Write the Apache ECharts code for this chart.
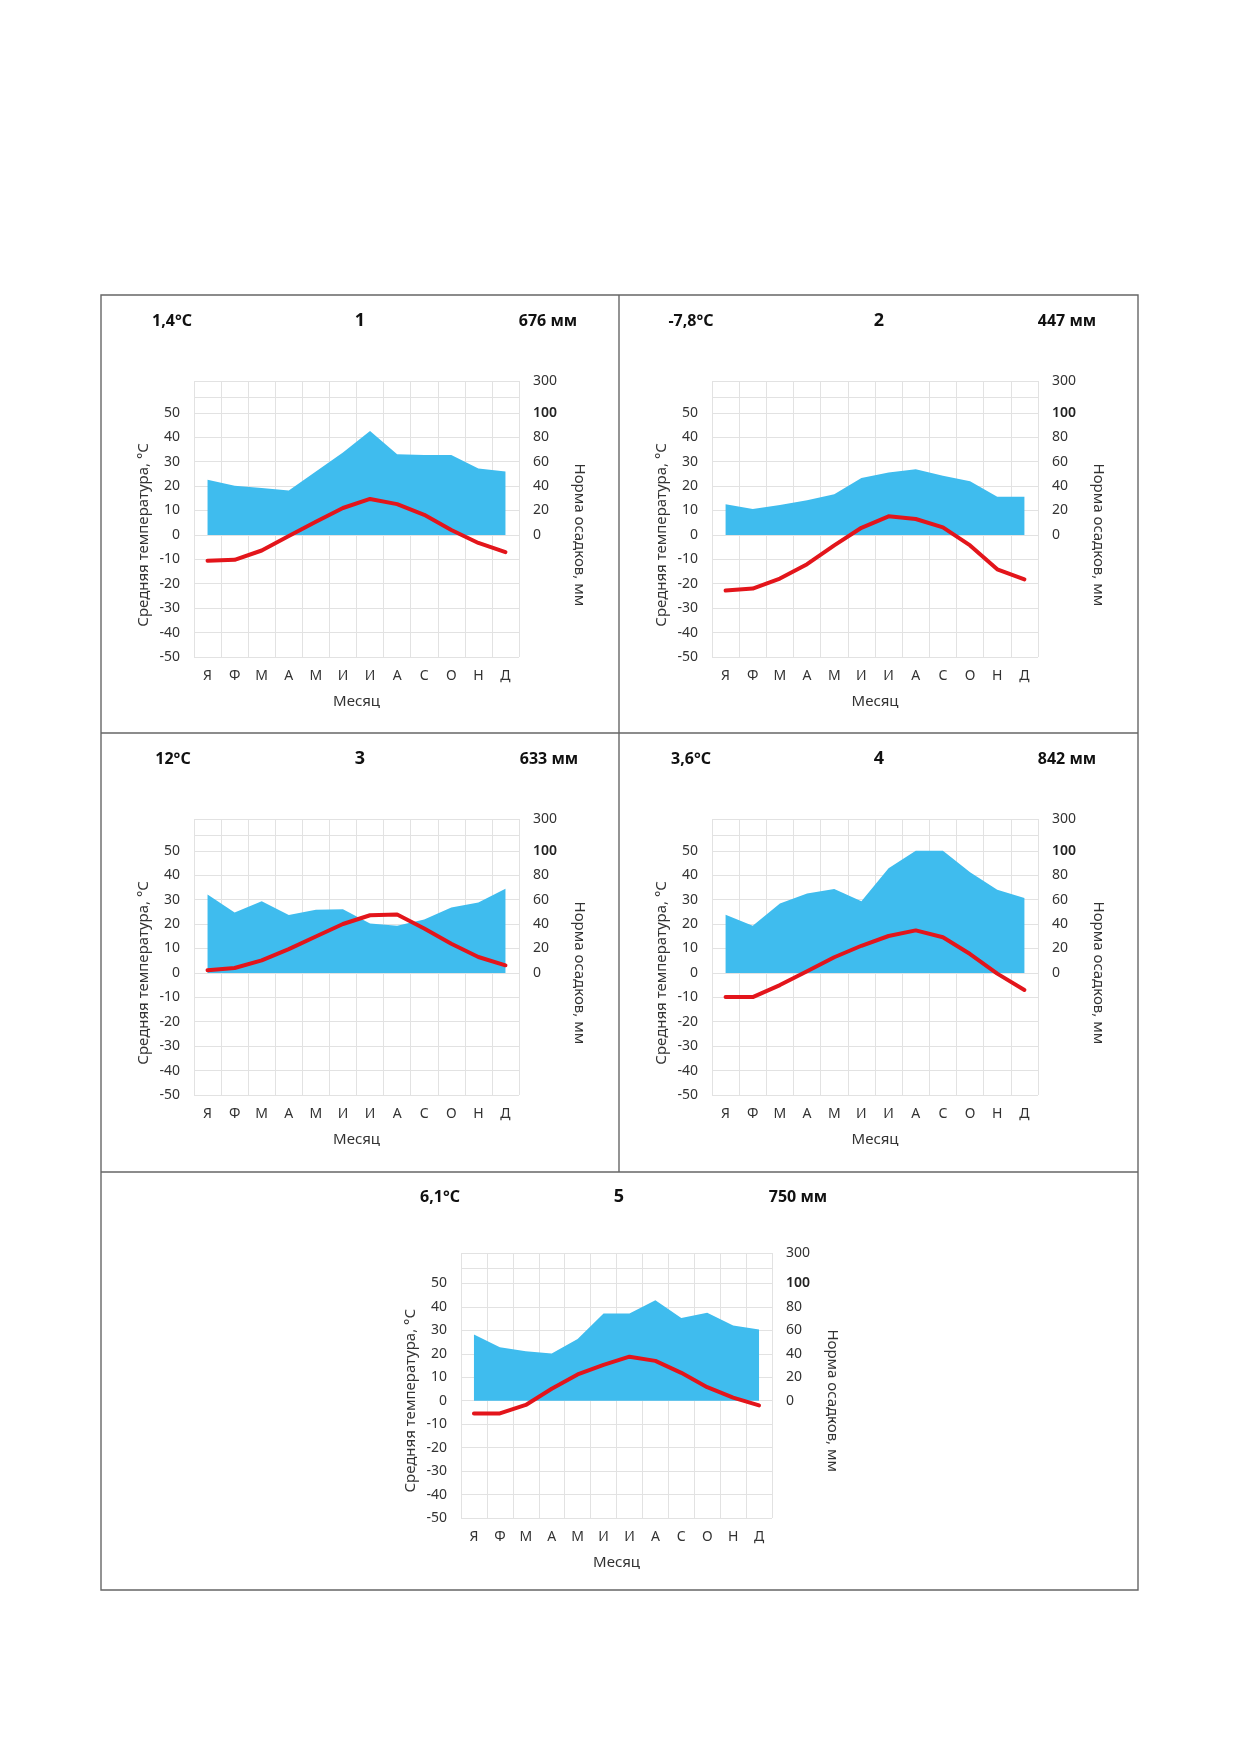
<!DOCTYPE html>
<html>
<head>
<meta charset="utf-8">
<script src="https://cdn.jsdelivr.net/npm/echarts@6/dist/echarts.min.js"></script>
<style>
  html, body { margin: 0; padding: 0; background: #fff; }
  #main { width: 1240px; height: 1754px; }
</style>
</head>
<body>
<div id="main"></div>
<script>
// подписи месяцев
var months = ['Я', 'Ф', 'М', 'А', 'М', 'И', 'И', 'А', 'С', 'О', 'Н', 'Д'];

// средняя температура, °C
var temp1 = [-10.6, -10.2, -6.4, -0.5, 5.4, 11.0, 14.7, 12.6, 8.2, 2.0, -3.3, -7.1];
var temp2 = [-22.8, -22.0, -17.9, -12.0, -4.3, 2.9, 7.6, 6.5, 3.1, -4.3, -14.1, -18.2];
var temp3 = [1.1, 2.0, 5.1, 9.7, 14.9, 20.0, 23.6, 23.9, 18.2, 11.9, 6.5, 3.1];
var temp4 = [-9.9, -9.9, -5.0, 0.7, 6.4, 11.1, 15.1, 17.4, 14.6, 7.7, -0.3, -7.0];
var temp5 = [-5.4, -5.4, -1.8, 5.1, 11.2, 15.3, 18.8, 17.0, 11.9, 5.8, 1.3, -2.0];

// норма осадков, мм
var precip1 = [45.1, 40.2, 38.3, 36.4, 51.9, 67.4, 85.1, 66.0, 65.5, 65.5, 54.3, 51.9];
var precip2 = [25.0, 21.2, 24.5, 28.3, 33.2, 46.5, 51.1, 53.8, 48.4, 44.0, 31.3, 31.3];
var precip3 = [64.1, 49.5, 58.6, 47.3, 51.6, 52.2, 40.5, 38.6, 43.8, 53.5, 57.6, 68.9];
var precip4 = [47.6, 38.6, 56.8, 64.9, 68.6, 58.6, 85.7, 100, 100, 82.4, 68.1, 61.4];
var precip5 = [56.5, 45.7, 42.3, 40.3, 52.6, 74.4, 74.4, 85.8, 70.5, 75.0, 64.2, 60.8];

// подписи над графиками
var chartNumbers = ['1', '2', '3', '4', '5'];
var annualTemp = ['1,4°C', '-7,8°C', '12°C', '3,6°C', '6,1°C'];
var annualPrecip = ['676 мм', '447 мм', '633 мм', '842 мм', '750 мм'];

// деления осей
var tempLabels = [-50, -40, -30, -20, -10, 0, 10, 20, 30, 40, 50];
var tempLines = [-50, -40, -30, -20, -10, 0, 10, 20, 30, 40, 50, 56.5, 63];
var precipLabels = [0, 20, 40, 60, 80, 100, 126];
var precipTopLabel = '300';

var temps = [temp1, temp2, temp3, temp4, temp5];
var precips = [precip1, precip2, precip3, precip4, precip5];

// расположение: сетка [left, top, width, height], строка заголовков
var layout = [
  { grid: [194, 381, 325, 276], ty: 321, lx: 172, nx: 360, rx: 548 },
  { grid: [712, 381, 326, 276], ty: 321, lx: 691, nx: 879, rx: 1067 },
  { grid: [194, 819, 325, 276], ty: 759, lx: 173, nx: 360, rx: 549 },
  { grid: [712, 819, 326, 276], ty: 759, lx: 691, nx: 879, rx: 1067 },
  { grid: [461, 1253, 311, 265], ty: 1197, lx: 440, nx: 619, rx: 798 }
];

var font = '"Noto Sans", "Open Sans", sans-serif';
var gridColor = '#e2e2e2';
var labelColor = '#333';

var grids = [], xAxes = [], yAxes = [], series = [], graphics = [];

layout.forEach(function (l, i) {
  var g = l.grid;
  grids.push({ left: g[0], top: g[1], width: g[2], height: g[3], containLabel: false });
  // смещение подписей осей к линии нуля
  var zeroShift = g[3] * (63 / 113) - g[3] / 2;

  xAxes.push({
    type: 'category',
    gridIndex: i,
    data: months,
    boundaryGap: true,
    name: 'Месяц',
    nameLocation: 'middle',
    nameGap: 37,
    nameTextStyle: { fontSize: 15, color: labelColor, fontFamily: font },
    axisLine: { show: false },
    axisTick: { show: false },
    axisLabel: { fontSize: 14, color: labelColor, margin: 12, fontFamily: font },
    splitLine: { show: true, lineStyle: { color: gridColor, width: 1 } }
  });

  yAxes.push({
    type: 'value',
    gridIndex: i,
    min: -50,
    max: 63,
    name: 'Средняя температура, °С',
    nameLocation: 'middle',
    nameGap: 43,
    nameTextStyle: { fontSize: 15, color: labelColor, fontFamily: font, padding: [0, zeroShift * 2, 0, 0] },
    axisLine: { show: false },
    axisTick: { show: false, customValues: tempLines },
    axisLabel: { fontSize: 14, color: labelColor, margin: 14, fontFamily: font, customValues: tempLabels },
    splitLine: { show: true, lineStyle: { color: gridColor, width: 1 } }
  });

  yAxes.push({
    type: 'value',
    gridIndex: i,
    position: 'right',
    min: -100,
    max: 126,
    name: 'Норма осадков, мм',
    nameLocation: 'middle',
    nameRotate: -90,
    nameGap: 53,
    nameTextStyle: { fontSize: 15, color: labelColor, fontFamily: font, padding: [0, 0, 0, zeroShift * 2] },
    axisLine: { show: false },
    axisTick: { show: false },
    axisLabel: {
      fontSize: 14, color: labelColor, margin: 14, fontFamily: font,
      customValues: precipLabels,
      formatter: function (v) {
        if (v === 126) return precipTopLabel;
        if (v === 100) return '{b|100}';
        return String(v);
      },
      rich: { b: { fontSize: 14, fontWeight: 600, color: '#222', fontFamily: font } }
    },
    splitLine: { show: false }
  });

  series.push({
    name: 'Осадки ' + (i + 1),
    type: 'line',
    xAxisIndex: i,
    yAxisIndex: i * 2 + 1,
    data: precips[i],
    symbol: 'none',
    lineStyle: { width: 0 },
    areaStyle: { color: '#3fbcee', opacity: 1, origin: 'auto' },
    itemStyle: { color: '#3fbcee' },
    z: 2,
    silent: true
  });
  series.push({
    name: 'Температура ' + (i + 1),
    type: 'line',
    xAxisIndex: i,
    yAxisIndex: i * 2,
    data: temps[i],
    symbol: 'none',
    lineStyle: { width: 4, color: '#e3151b', join: 'round', cap: 'round' },
    itemStyle: { color: '#e3151b' },
    z: 3,
    silent: true
  });

  [[l.lx, annualTemp[i], 16], [l.nx, chartNumbers[i], 18], [l.rx, annualPrecip[i], 16]].forEach(function (t) {
    graphics.push({
      type: 'text',
      x: t[0], y: l.ty,
      style: {
        text: t[1], fill: '#111', fontFamily: font, fontWeight: 'bold', fontSize: t[2],
        textAlign: 'center', textVerticalAlign: 'middle'
      }
    });
  });
});

// рамки
var frame = { stroke: '#666', lineWidth: 1.4 };
graphics.push({ type: 'rect', shape: { x: 101, y: 295, width: 1037, height: 1295 }, style: { fill: 'none', stroke: frame.stroke, lineWidth: frame.lineWidth } });
graphics.push({ type: 'line', shape: { x1: 101, y1: 733, x2: 1138, y2: 733 }, style: frame });
graphics.push({ type: 'line', shape: { x1: 101, y1: 1172, x2: 1138, y2: 1172 }, style: frame });
graphics.push({ type: 'line', shape: { x1: 619, y1: 295, x2: 619, y2: 1172 }, style: frame });

var chart = echarts.init(document.getElementById('main'), null, { renderer: 'canvas' });
chart.setOption({
  animation: false,
  backgroundColor: '#fff',
  textStyle: { fontFamily: font },
  grid: grids,
  xAxis: xAxes,
  yAxis: yAxes,
  series: series,
  graphic: graphics
});
</script>
</body>
</html>
